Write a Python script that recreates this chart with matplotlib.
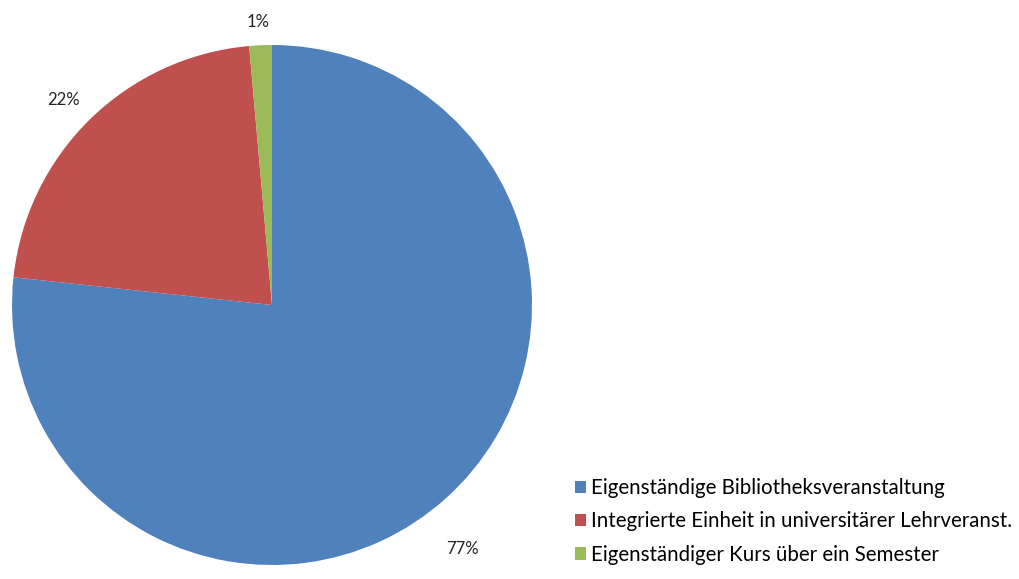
import numpy as np
import matplotlib.pyplot as plt
from matplotlib.patches import Patch

plt.rcParams['font.family'] = ['Lato', 'DejaVu Sans']

labels = ['Eigenständige Bibliotheksveranstaltung',
          'Integrierte Einheit in universitärer Lehrveranst.',
          'Eigenständiger Kurs über ein Semester']
shares = [76.7, 21.9, 1.4]
colors = ['#4F81BD', '#C0504D', '#9BBB59']

fig = plt.figure(figsize=(10.19, 5.79), dpi=100)
ax = fig.add_axes([12 / 1019, 14 / 579, 520 / 1019, 520 / 579])

wedges, texts, autotexts = ax.pie(shares, colors=colors, startangle=90,
                                  counterclock=False, autopct='%1.0f%%',
                                  pctdistance=1.13,
                                  wedgeprops=dict(linewidth=0))
ax.set_xlim(-1, 1)
ax.set_ylim(-1, 1)
ax.set_aspect('equal')

# put labels where the original has them (angle in degrees, radius)
for t, (ang, d) in zip(autotexts, [(-52, 1.19), (135.6, 1.125), (92.8, 1.09)]):
    a = np.radians(ang)
    t.set_position((d * np.cos(a), d * np.sin(a)))
    t.set_fontsize(12)
    t.set_color('#222222')

handles = [Patch(facecolor=c, edgecolor='none') for c in colors]
fig.legend(handles, labels, loc='upper left', bbox_to_anchor=(575 / 1019, 1 - 478 / 579),
           frameon=False, fontsize=14.8, handlelength=0.55, handleheight=0.55,
           handletextpad=0.25, labelspacing=0.65, borderpad=0, borderaxespad=0)

fig.savefig('out.png', dpi=100)
